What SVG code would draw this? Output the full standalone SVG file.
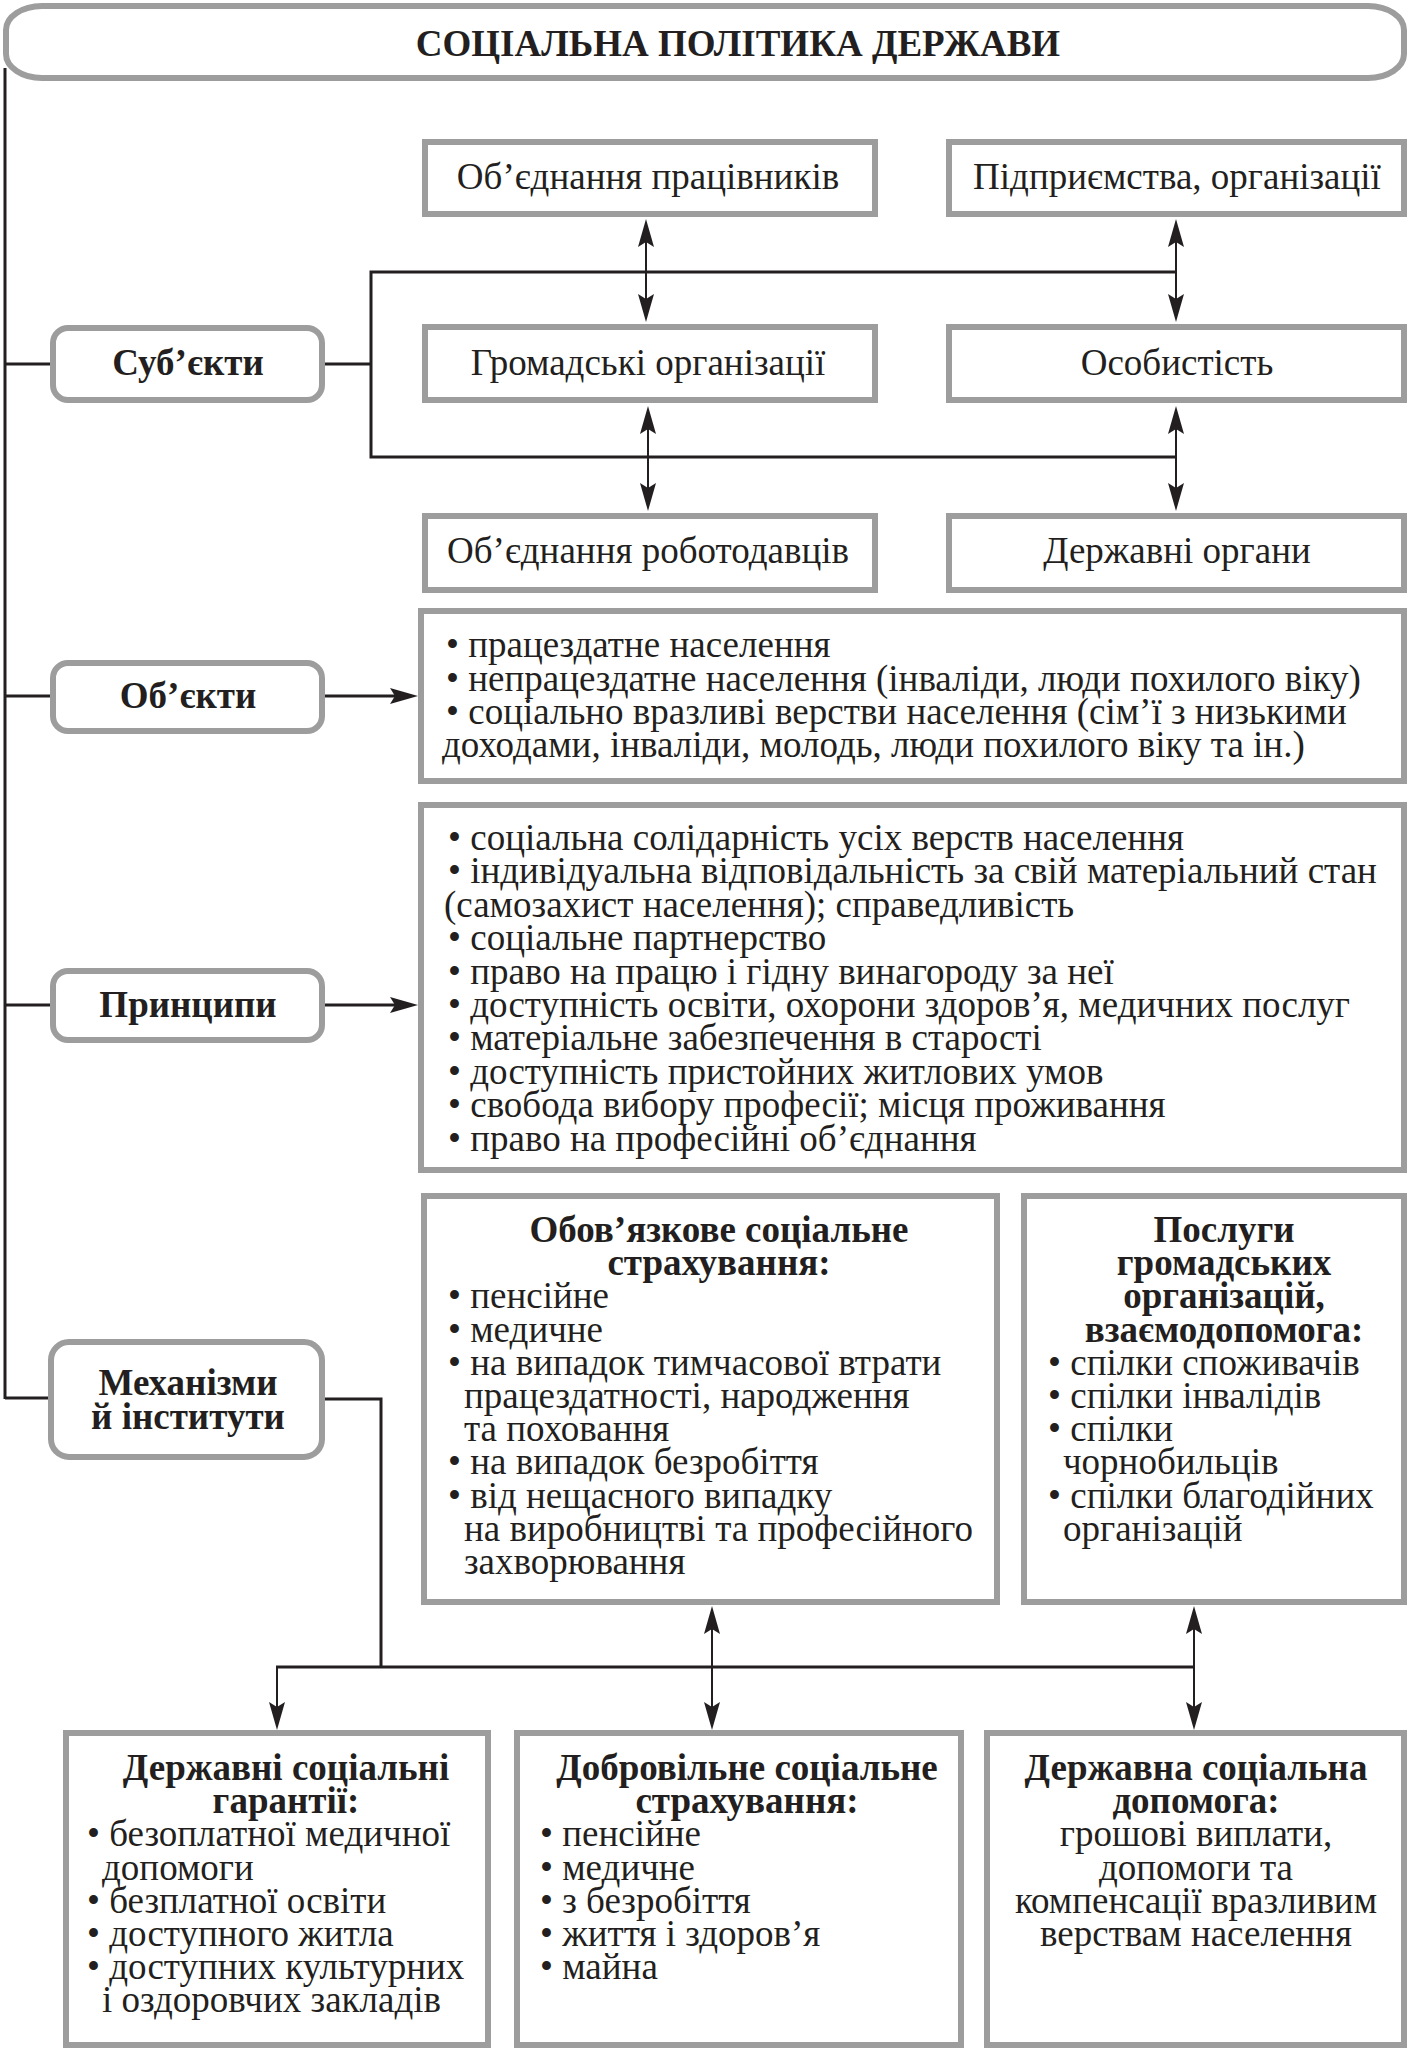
<svg xmlns="http://www.w3.org/2000/svg" width="1411" height="2048" viewBox="0 0 1411 2048">
<style>
.t{font-family:"Liberation Serif","Times New Roman",serif;font-size:37px;fill:#231f20}
.b{font-weight:bold}
.c{text-anchor:middle}
.box{fill:#fff;stroke:#9d9d9d;stroke-width:6}
.ln{stroke:#231f20;fill:none}
.w2{stroke-width:2}
.w3{stroke-width:3}
</style>
<defs>
<marker id="ah" viewBox="0 0 28 16" refX="18" refY="8" markerWidth="28" markerHeight="16" markerUnits="userSpaceOnUse" orient="auto-start-reverse">
<path d="M0,0 L28,8 L0,16 L5,8 Z" fill="#231f20"/>
</marker>
</defs>
<rect width="1411" height="2048" fill="#fff"/>

<g id="connectors">
<line class="ln w3" x1="5" y1="68" x2="5" y2="1399"/>
<line class="ln w3" x1="5" y1="364" x2="50" y2="364"/>
<polyline class="ln w3" points="325,364 371,364"/>
<polyline class="ln w3" points="1176,272 371,272 371,457 1176,457"/>
<line class="ln w2" x1="646" y1="229" x2="646" y2="312" marker-start="url(#ah)" marker-end="url(#ah)"/>
<line class="ln w2" x1="1176" y1="229" x2="1176" y2="312" marker-start="url(#ah)" marker-end="url(#ah)"/>
<line class="ln w2" x1="648" y1="416" x2="648" y2="501" marker-start="url(#ah)" marker-end="url(#ah)"/>
<line class="ln w2" x1="1176" y1="416" x2="1176" y2="501" marker-start="url(#ah)" marker-end="url(#ah)"/>
<line class="ln w3" x1="5" y1="696" x2="50" y2="696"/>
<line class="ln w3" x1="325" y1="696" x2="408" y2="696" marker-end="url(#ah)"/>
<line class="ln w3" x1="5" y1="1005" x2="50" y2="1005"/>
<line class="ln w3" x1="325" y1="1005" x2="408" y2="1005" marker-end="url(#ah)"/>
<line class="ln w3" x1="5" y1="1398" x2="48" y2="1398"/>
<polyline class="ln w3" points="325,1399 381,1399 381,1667"/>
<line class="ln w3" x1="276" y1="1667" x2="1194" y2="1667"/>
<line class="ln w2" x1="277" y1="1667" x2="277" y2="1720" marker-end="url(#ah)"/>
<line class="ln w2" x1="712" y1="1616" x2="712" y2="1720" marker-start="url(#ah)" marker-end="url(#ah)"/>
<line class="ln w2" x1="1194" y1="1616" x2="1194" y2="1720" marker-start="url(#ah)" marker-end="url(#ah)"/>
</g>

<g id="title">
<rect class="box" x="6" y="6" width="1398" height="72" rx="36" ry="24"/>
<text class="t b c" x="738" y="56">СОЦІАЛЬНА ПОЛІТИКА ДЕРЖАВИ</text>
</g>

<g id="subjects">
<rect class="box" x="53" y="328" width="269" height="72" rx="15"/>
<text class="t b c" x="188" y="375">Суб’єкти</text>
</g>

<g id="s-workers">
<rect class="box" x="425" y="142" width="450" height="72"/>
<text class="t c" x="648" y="189">Об’єднання працівників</text>
</g>
<g id="s-enterprises">
<rect class="box" x="949" y="142" width="455" height="72"/>
<text class="t c" x="1177" y="189">Підприємства, організації</text>
</g>
<g id="s-public">
<rect class="box" x="425" y="327" width="450" height="73"/>
<text class="t c" x="648" y="375">Громадські організації</text>
</g>
<g id="s-person">
<rect class="box" x="949" y="327" width="455" height="73"/>
<text class="t c" x="1177" y="375">Особистість</text>
</g>
<g id="s-employers">
<rect class="box" x="425" y="516" width="450" height="74"/>
<text class="t c" x="648" y="563">Об’єднання роботодавців</text>
</g>
<g id="s-state">
<rect class="box" x="949" y="516" width="455" height="74"/>
<text class="t c" x="1177" y="563">Державні органи</text>
</g>

<g id="objects">
<rect class="box" x="53" y="663" width="269" height="68" rx="15"/>
<text class="t b c" x="188" y="708">Об’єкти</text>
</g>
<g id="objects-list">
<rect class="box" x="421" y="611" width="983" height="170"/>
<text class="t" x="446" y="657">• працездатне населення</text>
<text class="t" x="446" y="691">• непрацездатне населення (інваліди, люди похилого віку)</text>
<text class="t" x="446" y="724">• соціально вразливі верстви населення (сім’ї з низькими</text>
<text class="t" x="442" y="757">доходами, інваліди, молодь, люди похилого віку та ін.)</text>
</g>

<g id="principles">
<rect class="box" x="53" y="971" width="269" height="69" rx="15"/>
<text class="t b c" x="188" y="1017">Принципи</text>
</g>
<g id="principles-list">
<rect class="box" x="421" y="805" width="983" height="365"/>
<text class="t" x="448" y="850">• соціальна солідарність усіх верств населення</text>
<text class="t" x="448" y="883">• індивідуальна відповідальність за свій матеріальний стан</text>
<text class="t" x="444" y="917">(самозахист населення); справедливість</text>
<text class="t" x="448" y="950">• соціальне партнерство</text>
<text class="t" x="448" y="984">• право на працю і гідну винагороду за неї</text>
<text class="t" x="448" y="1017">• доступність освіти, охорони здоров’я, медичних послуг</text>
<text class="t" x="448" y="1050">• матеріальне забезпечення в старості</text>
<text class="t" x="448" y="1084">• доступність пристойних житлових умов</text>
<text class="t" x="448" y="1117">• свобода вибору професії; місця проживання</text>
<text class="t" x="448" y="1151">• право на професійні об’єднання</text>
</g>

<g id="mechanisms">
<rect class="box" x="51" y="1342" width="271" height="115" rx="18"/>
<text class="t b c" x="188" y="1395">Механізми</text>
<text class="t b c" x="188" y="1429">й інститути</text>
</g>

<g id="mandatory">
<rect class="box" x="424" y="1196" width="573" height="406"/>
<text class="t b c" x="719" y="1242">Обов’язкове соціальне</text>
<text class="t b c" x="719" y="1275">страхування:</text>
<text class="t" x="448" y="1308">• пенсійне</text>
<text class="t" x="448" y="1342">• медичне</text>
<text class="t" x="448" y="1375">• на випадок тимчасової втрати</text>
<text class="t" x="464" y="1408">працездатності, народження</text>
<text class="t" x="464" y="1441">та поховання</text>
<text class="t" x="448" y="1474">• на випадок безробіття</text>
<text class="t" x="448" y="1508">• від нещасного випадку</text>
<text class="t" x="464" y="1541">на виробництві та професійного</text>
<text class="t" x="464" y="1574">захворювання</text>
</g>

<g id="public-services">
<rect class="box" x="1024" y="1196" width="380" height="406"/>
<text class="t b c" x="1224" y="1242">Послуги</text>
<text class="t b c" x="1224" y="1275">громадських</text>
<text class="t b c" x="1224" y="1308">організацій,</text>
<text class="t b c" x="1224" y="1342">взаємодопомога:</text>
<text class="t" x="1048" y="1375">• спілки споживачів</text>
<text class="t" x="1048" y="1408">• спілки інвалідів</text>
<text class="t" x="1048" y="1441">• спілки</text>
<text class="t" x="1063" y="1474">чорнобильців</text>
<text class="t" x="1048" y="1508">• спілки благодійних</text>
<text class="t" x="1063" y="1541">організацій</text>
</g>

<g id="guarantees">
<rect class="box" x="66" y="1733" width="422" height="312"/>
<text class="t b c" x="286" y="1780">Державні соціальні</text>
<text class="t b c" x="286" y="1813">гарантії:</text>
<text class="t" x="87" y="1846">• безоплатної медичної</text>
<text class="t" x="102" y="1880">допомоги</text>
<text class="t" x="87" y="1913">• безплатної освіти</text>
<text class="t" x="87" y="1946">• доступного житла</text>
<text class="t" x="87" y="1979">• доступних культурних</text>
<text class="t" x="102" y="2012">і оздоровчих закладів</text>
</g>

<g id="voluntary">
<rect class="box" x="517" y="1733" width="444" height="312"/>
<text class="t b c" x="747" y="1780">Добровільне соціальне</text>
<text class="t b c" x="747" y="1813">страхування:</text>
<text class="t" x="540" y="1846">• пенсійне</text>
<text class="t" x="540" y="1880">• медичне</text>
<text class="t" x="540" y="1913">• з безробіття</text>
<text class="t" x="540" y="1946">• життя і здоров’я</text>
<text class="t" x="540" y="1979">• майна</text>
</g>

<g id="assistance">
<rect class="box" x="987" y="1733" width="417" height="312"/>
<text class="t b c" x="1196" y="1780">Державна соціальна</text>
<text class="t b c" x="1196" y="1813">допомога:</text>
<text class="t c" x="1196" y="1846">грошові виплати,</text>
<text class="t c" x="1196" y="1880">допомоги та</text>
<text class="t c" x="1196" y="1913">компенсації вразливим</text>
<text class="t c" x="1196" y="1946">верствам населення</text>
</g>
</svg>
